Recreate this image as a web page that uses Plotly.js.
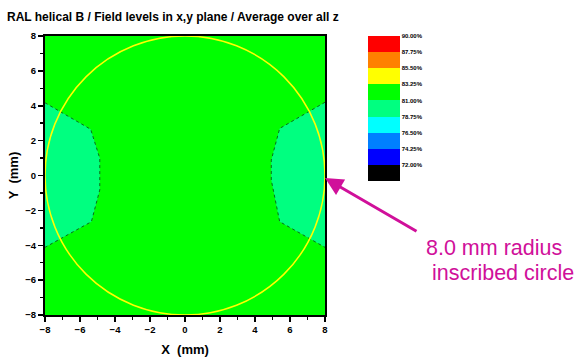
<!DOCTYPE html>
<html>
<head>
<meta charset="utf-8">
<script src="https://cdn.plot.ly/plotly-3.0.1.min.js"></script>
<style>
  html, body { margin: 0; padding: 0; background: #fff; }
  #chart { width: 584px; height: 358px; }
</style>
</head>
<body>
<div id="chart"></div>
<script>
// Field level bands (upper edge of each band, %) and their fill colours, low to high
const levelTops = [72.00, 74.25, 76.50, 78.75, 81.00, 83.25, 85.50, 87.75, 90.00];
const levelColors = ['#000000', '#0000ff', '#0080ff', '#00ffff', '#00ff80',
                     '#00ff00', '#ffff00', '#ff8000', '#ff0000'];
const levelStep = 2.25;

// Domain of the map (mm)
const domainX = [-8, 8, 8, -8, -8];
const domainY = [-8, -8, 8, 8, -8];

// Lower-field lobes (81.00 - 83.25 % band), left and right sides
const lobeLeftX = [-8.00, -5.39, -4.87, -4.87, -5.35, -8.00];
const lobeLeftY = [4.17, 2.65, 0.99, -0.83, -2.65, -4.12];
const lobeRightX = [8.00, 5.41, 4.93, 4.93, 5.41, 8.00];
const lobeRightY = [4.20, 2.70, 0.89, -0.26, -2.65, -4.12];

// Inscribed circle
const circleRadius = 8.0;

const tickVals = [-8, -6, -4, -2, 0, 2, 4, 6, 8];

// Discrete colour scale for the band key
const cmin = levelTops[0] - levelStep;
const cmax = levelTops[levelTops.length - 1];
const colorscale = [];
levelColors.forEach((c, i) => {
  colorscale.push([i / levelColors.length, c]);
  colorscale.push([(i + 1) / levelColors.length, c]);
});

const baseColor = levelColors[5];
const lobeColor = levelColors[4];
const contourLine = { color: '#0b6b1a', width: 1, dash: 'dot' };

const traces = [
  {
    x: domainX, y: domainY, mode: 'lines', fill: 'toself',
    fillcolor: baseColor, line: { width: 0, color: baseColor },
    hoverinfo: 'skip', showlegend: false
  },
  {
    x: lobeLeftX, y: lobeLeftY, mode: 'lines', fill: 'toself',
    fillcolor: lobeColor, line: contourLine,
    hoverinfo: 'skip', showlegend: false
  },
  {
    x: lobeRightX, y: lobeRightY, mode: 'lines', fill: 'toself',
    fillcolor: lobeColor, line: contourLine,
    hoverinfo: 'skip', showlegend: false
  },
  {
    // carries the band key
    x: [null], y: [null], mode: 'markers', showlegend: false, hoverinfo: 'skip',
    marker: {
      color: [levelTops[5]], colorscale: colorscale, cmin: cmin, cmax: cmax,
      showscale: true,
      colorbar: {
        x: (368 - 45) / 280, xanchor: 'left', xpad: 0,
        y: 1, yanchor: 'top', ypad: 0,
        thickness: 32, thicknessmode: 'pixels',
        len: 145, lenmode: 'pixels',
        outlinewidth: 0, ticks: '', ticklen: 0,
        tickmode: 'array', tickvals: levelTops,
        ticktext: levelTops.map(v => v.toFixed(2) + '%'),
        tickfont: { family: 'Liberation Sans', size: 6, color: '#000', weight: 'bold' }
      }
    }
  }
];

const axisCommon = {
  range: [-8, 8], tickmode: 'array', tickvals: tickVals,
  ticks: 'outside', ticklen: 5, tickwidth: 1.5, tickcolor: '#000',
  minor: { dtick: 1, ticks: 'outside', ticklen: 3, tickwidth: 1.5, tickcolor: '#000' },
  showline: true, linecolor: '#000', linewidth: 2, mirror: true,
  showgrid: false, zeroline: false,
  tickfont: { family: 'Liberation Sans', size: 9.5, color: '#000', weight: 'bold' }
};

const magenta = '#d0109a';

const layout = {
  width: 584, height: 358,
  margin: { l: 45, r: 259, t: 36, b: 43 },
  paper_bgcolor: '#ffffff', plot_bgcolor: '#ffffff',
  title: {
    text: 'RAL helical B / Field levels in x,y plane / Average over all z',
    x: 7 / 584, xanchor: 'left', xref: 'container', y: 1 - 17 / 358, yanchor: 'middle',
    font: { family: 'Liberation Sans', size: 12, color: '#000', weight: 'bold' }
  },
  xaxis: Object.assign({}, axisCommon, {
    title: { text: 'X  (mm)', standoff: 10,
      font: { family: 'Liberation Sans', size: 13, color: '#000', weight: 'bold' } }
  }),
  yaxis: Object.assign({}, axisCommon, {
    title: { text: 'Y  (mm)', standoff: 4,
      font: { family: 'Liberation Sans', size: 13, color: '#000', weight: 'bold' } }
  }),
  shapes: [{
    type: 'circle', xref: 'x', yref: 'y', layer: 'above',
    x0: -circleRadius, x1: circleRadius, y0: -circleRadius, y1: circleRadius,
    line: { color: '#ffff00', width: 1.5 }
  }],
  annotations: [
    {
      x: circleRadius, y: -0.15, xref: 'x', yref: 'y', text: '',
      showarrow: true, axref: 'pixel', ayref: 'pixel', ax: 93, ay: 54,
      arrowcolor: magenta, arrowwidth: 3, arrowhead: 2, arrowsize: 1.2, standoff: 0
    },
    {
      xref: 'paper', yref: 'paper', x: (424 - 45) / 280, y: (315 - 234) / 279,
      xanchor: 'left', yanchor: 'top', showarrow: false,
      text: '8.0 mm radius',
      font: { family: 'Liberation Sans', size: 21.5, color: magenta }
    },
    {
      xref: 'paper', yref: 'paper', x: (430 - 45) / 280, y: (315 - 259) / 279,
      xanchor: 'left', yanchor: 'top', showarrow: false,
      text: 'inscribed circle',
      font: { family: 'Liberation Sans', size: 21.5, color: magenta }
    }
  ]
};

Plotly.newPlot('chart', traces, layout, { staticPlot: true, displayModeBar: false });
</script>
</body>
</html>
